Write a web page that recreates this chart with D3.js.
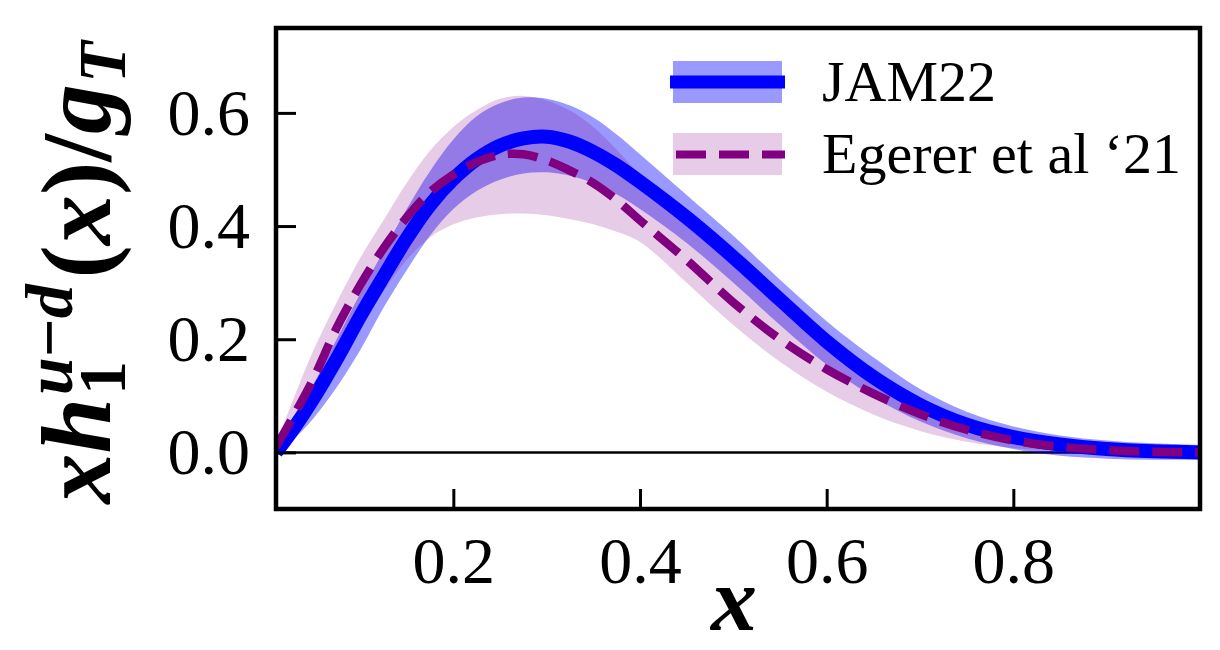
<!DOCTYPE html>
<html><head><meta charset="utf-8">
<script src="https://cdn.jsdelivr.net/npm/d3@7"></script>
<style>body{margin:0;background:#fff;} svg{display:block;}</style>
</head><body>
<svg id="chart" width="1220" height="650"></svg>
<script>
// ---- data ----
const xGrid   = [0.01, 0.03, 0.05, 0.075, 0.1, 0.125, 0.15, 0.175, 0.2, 0.225, 0.25, 0.275, 0.3, 0.325, 0.35, 0.375, 0.4, 0.45, 0.5, 0.55, 0.6, 0.65, 0.7, 0.75, 0.8, 0.85, 0.9, 0.95, 1.0];
const jamMean = [0.0, 0.045, 0.095, 0.165, 0.24, 0.31, 0.378, 0.437, 0.483, 0.518, 0.542, 0.555, 0.558, 0.549, 0.531, 0.507, 0.478, 0.415, 0.345, 0.27, 0.196, 0.133, 0.084, 0.049, 0.027, 0.014, 0.006, 0.002, 0.0];
const jamHigh = [0.01, 0.06, 0.12, 0.2, 0.28, 0.355, 0.43, 0.497, 0.553, 0.594, 0.617, 0.627, 0.625, 0.613, 0.592, 0.562, 0.527, 0.455, 0.383, 0.305, 0.232, 0.168, 0.112, 0.072, 0.046, 0.03, 0.021, 0.016, 0.013];
const jamLow  = [-0.005, 0.025, 0.06, 0.115, 0.18, 0.255, 0.322, 0.383, 0.43, 0.462, 0.482, 0.493, 0.495, 0.489, 0.476, 0.456, 0.43, 0.37, 0.3, 0.225, 0.155, 0.098, 0.055, 0.025, 0.006, -0.006, -0.011, -0.013, -0.013];
const egMean  = [0.01, 0.068, 0.13, 0.22, 0.295, 0.36, 0.415, 0.46, 0.491, 0.513, 0.526, 0.527, 0.516, 0.498, 0.476, 0.446, 0.41, 0.34, 0.265, 0.2, 0.147, 0.104, 0.068, 0.04, 0.021, 0.01, 0.004, 0.001, 0.0];
const egHigh  = [0.015, 0.1, 0.18, 0.265, 0.343, 0.41, 0.476, 0.533, 0.575, 0.605, 0.625, 0.63, 0.622, 0.604, 0.575, 0.535, 0.49, 0.41, 0.33, 0.255, 0.19, 0.137, 0.093, 0.058, 0.033, 0.017, 0.008, 0.004, 0.002];
const egLow   = [-0.005, 0.03, 0.08, 0.15, 0.22, 0.285, 0.34, 0.38, 0.403, 0.415, 0.421, 0.422, 0.419, 0.412, 0.403, 0.39, 0.372, 0.3, 0.225, 0.16, 0.107, 0.067, 0.038, 0.019, 0.008, 0.003, 0.001, 0.0, 0.0];
const xTicks = [0.2, 0.4, 0.6, 0.8];
const yTicks = [0.0, 0.2, 0.4, 0.6];
const seriesNames = ["JAM22", "Egerer et al \u201821"];

// ---- layout ----
const M = {left: 276, right: 1200, top: 28, bottom: 509};
const x = d3.scaleLinear().domain([0.01, 1.0]).range([M.left, M.right]);
const y = d3.scaleLinear().domain([-0.1, 0.75]).range([M.bottom, M.top]);
const svg = d3.select("#chart");
const tickFont = "'Liberation Serif', 'DejaVu Serif', serif";
const mathFont = "'Liberation Serif', 'DejaVu Serif', serif";

svg.append("defs").append("clipPath").attr("id", "clip")
  .append("rect").attr("x", M.left).attr("y", M.top)
  .attr("width", M.right - M.left).attr("height", M.bottom - M.top);

const plot = svg.append("g").attr("clip-path", "url(#clip)");
plot.append("line").attr("x1", M.left).attr("x2", M.right)
  .attr("y1", y(0)).attr("y2", y(0)).attr("stroke", "#000").attr("stroke-width", 2.5);

const jam = xGrid.map((d, i) => ({x: d, m: jamMean[i], lo: jamLow[i], hi: jamHigh[i]}));
const eg  = xGrid.map((d, i) => ({x: d, m: egMean[i],  lo: egLow[i],  hi: egHigh[i]}));
const curve = d3.curveCatmullRom.alpha(0.5);
const area = d3.area().x(d => x(d.x)).y0(d => y(d.lo)).y1(d => y(d.hi)).curve(curve);
const line = d3.line().x(d => x(d.x)).y(d => y(d.m)).curve(curve);

plot.append("path").datum(jam).attr("d", area).attr("fill", "blue").attr("fill-opacity", 0.4);
plot.append("path").datum(eg).attr("d", area).attr("fill", "purple").attr("fill-opacity", 0.2);
plot.append("path").datum(jam).attr("d", line).attr("fill", "none")
  .attr("stroke", "blue").attr("stroke-width", 14);
plot.append("path").datum(eg).attr("d", line).attr("fill", "none")
  .attr("stroke", "purple").attr("stroke-width", 8.5).attr("stroke-dasharray", "30,13");

// ---- axes ----
const fmt = d3.format(".1f");
const xAxis = svg.append("g").attr("transform", `translate(0,${M.bottom})`)
  .call(d3.axisBottom(x).tickValues(xTicks).tickSize(-20).tickPadding(27).tickFormat(fmt));
const yAxis = svg.append("g").attr("transform", `translate(${M.left},0)`)
  .call(d3.axisLeft(y).tickValues(yTicks).tickSize(-20).tickPadding(26).tickFormat(fmt));
[xAxis, yAxis].forEach(g => {
  g.select(".domain").remove();
  g.selectAll(".tick line").attr("stroke", "#000").attr("stroke-width", 3);
  g.selectAll(".tick text").attr("fill", "#000").attr("font-family", tickFont).attr("font-size", 66);
});

// frame
svg.append("rect").attr("x", M.left).attr("y", M.top)
  .attr("width", M.right - M.left).attr("height", M.bottom - M.top)
  .attr("fill", "none").attr("stroke", "#000").attr("stroke-width", 4.5);

// ---- legend ----
const lg = svg.append("g");
lg.append("rect").attr("x", 673).attr("y", 61).attr("width", 109).attr("height", 42)
  .attr("fill", "blue").attr("fill-opacity", 0.4);
lg.append("line").attr("x1", 670).attr("x2", 785).attr("y1", 82).attr("y2", 82)
  .attr("stroke", "blue").attr("stroke-width", 13);
lg.append("rect").attr("x", 673).attr("y", 133).attr("width", 109).attr("height", 42)
  .attr("fill", "purple").attr("fill-opacity", 0.2);
lg.append("line").attr("x1", 676).attr("x2", 785).attr("y1", 154.5).attr("y2", 154.5)
  .attr("stroke", "purple").attr("stroke-width", 8).attr("stroke-dasharray", "30,13");
lg.append("text").attr("x", 822).attr("y", 101).text(seriesNames[0])
  .attr("font-family", tickFont).attr("font-size", 58).attr("fill", "#000");
lg.append("text").attr("x", 822).attr("y", 173).text(seriesNames[1])
  .attr("font-family", tickFont).attr("font-size", 58).attr("fill", "#000");

// ---- x label ----
svg.append("text").attr("x", 734).attr("y", 630).attr("text-anchor", "middle")
  .attr("font-family", mathFont).attr("font-weight", "bold").attr("font-style", "italic")
  .attr("font-size", 92).attr("fill", "#000").text("x");

// ---- y label: x h_1^{u-d}(x)/g_T ----
const F = 80;
const yl = svg.append("g");
function txt(parent, s, xx, yy, size, italic) {
  return parent.append("text").attr("x", xx).attr("y", yy).attr("font-size", size)
    .attr("font-family", mathFont).attr("font-weight", "bold")
    .attr("font-style", italic ? "italic" : "normal").attr("fill", "#000").text(s);
}
let cx = 0;
const t1 = txt(yl, "xh", cx, 0, F, true);
cx += t1.node().getComputedTextLength() + 0.03 * F;
const sup = yl.append("text").attr("x", cx).attr("y", -0.38 * F).attr("font-size", 0.68 * F)
  .attr("font-family", mathFont).attr("font-weight", "bold").attr("fill", "#000");
sup.append("tspan").attr("font-style", "italic").text("u");
sup.append("tspan").attr("font-style", "normal").text("\u2212");
sup.append("tspan").attr("font-style", "italic").text("d");
const sub1 = txt(yl, "1", cx, 0.15 * F, 0.68 * F, false);
cx += Math.max(sup.node().getComputedTextLength(), sub1.node().getComputedTextLength()) + 0.06 * F;
const t2 = yl.append("text").attr("x", cx).attr("y", 0).attr("font-size", F)
  .attr("font-family", mathFont).attr("font-weight", "bold").attr("fill", "#000");
t2.append("tspan").attr("font-style", "normal").text("(");
t2.append("tspan").attr("font-style", "italic").text("x");
t2.append("tspan").attr("font-style", "normal").text(")/");
t2.append("tspan").attr("font-style", "italic").text("g");
cx += t2.node().getComputedTextLength() + 0.01 * F;
const tT = txt(yl, "T", cx, 0.15 * F, 0.68 * F, true);
cx += tT.node().getComputedTextLength();
const s = Math.min(485 / cx, 1.25);
yl.attr("transform", `translate(110,${515 - (485 - cx * s) / 2}) rotate(-90) scale(${s})`);
</script>
</body></html>
